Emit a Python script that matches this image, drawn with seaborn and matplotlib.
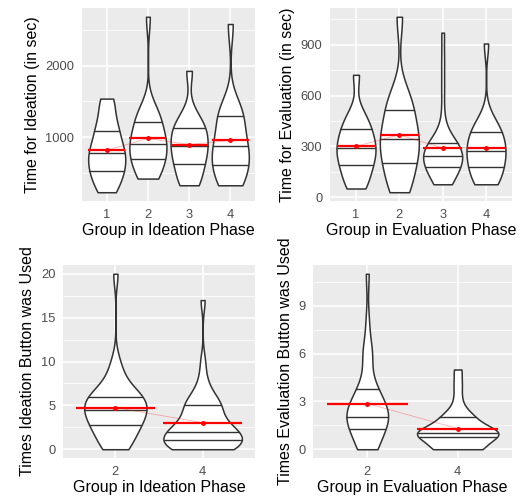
import numpy as np
import pandas as pd
import seaborn as sns
import matplotlib.pyplot as plt

# Time for ideation (in sec), per ideation group
ideation_time_g1 = [236, 300, 420, 510, 540, 600, 700, 760, 800, 850, 950, 1080, 1120, 1250, 1450, 1540]
ideation_time_g2 = [426, 450, 500, 560, 680, 700, 730, 780, 870, 900, 925, 980, 990, 1060, 1200, 1250,
                    1290, 1350, 1400, 2680]
ideation_time_g3 = [333, 350, 460, 600, 640, 700, 800, 860, 900, 950, 1050, 1130, 1150, 1200, 1350, 1926]
ideation_time_g4 = [333, 340, 400, 580, 620, 660, 720, 850, 900, 930, 1050, 1280, 1330, 1350, 1400, 2579]

# Time for evaluation (in sec), per evaluation group
evaluation_time_g1 = [51, 80, 110, 175, 195, 210, 250, 285, 300, 320, 340, 400, 415, 450, 500, 723]
evaluation_time_g2 = [29, 60, 110, 180, 210, 250, 300, 330, 355, 370, 410, 510, 530, 560, 620, 1066]
evaluation_time_g3 = [76, 80, 90, 110, 140, 160, 170, 178, 190, 200, 215, 225, 235, 240,
                      250, 260, 270, 280, 290, 300, 315, 325, 328, 335, 470, 640, 800, 972]
evaluation_time_g4 = [76, 80, 90, 120, 170, 180, 190, 215, 255, 265, 280, 290, 310, 340, 380, 390,
                      400, 420, 480, 908]

# Times the buttons were used (only groups 2 and 4 had them)
ideation_button_g2 = [0, 0, 0, 1, 1, 2, 2, 2, 3, 3, 3, 3, 4, 4, 4, 4,
                      5, 5, 5, 5, 5, 6, 6, 6, 6, 6, 7, 7, 8, 9, 10, 20]
ideation_button_g4 = [0, 0, 0, 0, 0, 0, 0, 0, 1, 1, 1, 1, 1, 1, 1, 1, 2, 2, 2, 2,
                      2, 2, 2, 3, 3, 3, 3, 4, 4, 5, 5, 5, 5, 5, 6, 6, 7, 8, 10, 17]
evaluation_button_g2 = [0, 0, 0, 0, 1, 1, 1, 1, 2, 2, 2, 2, 2, 2, 2,
                        2, 2, 3, 3, 3, 3, 3, 4, 4, 4, 6, 6, 6, 8, 11]
evaluation_button_g4 = [0, 0, 0, 0, 0, 0, 1, 1, 1, 1, 1, 1, 1, 1, 1, 1, 1, 2,
                        2, 2, 2, 3, 4, 5]


def long_df(groups):
    rows = []
    for name, vals in groups.items():
        for v in vals:
            rows.append({'group': name, 'value': v})
    return pd.DataFrame(rows)


def draw_panel(ax, df, xlabel, ylabel, major, minor, norm='area'):
    sns.violinplot(data=df, x='group', y='value', ax=ax, inner='quart', cut=0,
                   density_norm=norm, width=0.9, color='white', linecolor='#333333',
                   linewidth=1.1, bw_adjust=0.75, saturation=1)
    # ggplot draws solid quantile lines
    for ln in ax.lines:
        ln.set_linestyle('-')
        ln.set_linewidth(1.0)

    means = df.groupby('group', sort=False)['value'].mean()
    pos = np.arange(len(means))
    ax.plot(pos, means.values, color='red', alpha=0.3, lw=0.6, zorder=4)
    ax.hlines(means.values, pos - 0.45, pos + 0.45, color='red', lw=1.6, zorder=5)
    ax.plot(pos, means.values, 'o', color='red', ms=2.5, zorder=6)

    lo, hi = df['value'].min(), df['value'].max()
    pad = 0.05 * (hi - lo)
    ax.set_ylim(lo - pad, hi + pad)
    ax.set_xlim(-0.6, len(means) - 0.4)
    ax.set_yticks(major)
    ax.set_yticks(minor, minor=True)
    ax.grid(True, which='major', color='white', lw=1.1)
    ax.grid(True, which='minor', axis='y', color='white', lw=0.55)
    ax.set_axisbelow(True)
    ax.tick_params(which='minor', length=0)
    ax.tick_params(which='major', length=3.5, width=1, color='#333333',
                   labelcolor='#4D4D4D', labelsize=9.3, pad=2)
    for s in ax.spines.values():
        s.set_visible(False)
    ax.set_xlabel(xlabel, fontsize=11.5, color='black', labelpad=2)
    ax.set_ylabel(ylabel, fontsize=11.5, color='black', labelpad=4)


sns.set_style('darkgrid', {'axes.facecolor': '#EBEBEB', 'grid.color': 'white'})
plt.rcParams['font.family'] = ['Liberation Sans', 'DejaVu Sans']

fig = plt.figure(figsize=(5.21, 5.04), dpi=100)
W, H = 521, 504


def add_axes(x0, y0, x1, y1):
    return fig.add_axes([x0 / W, 1 - y1 / H, (x1 - x0) / W, (y1 - y0) / H])


ax1 = add_axes(82, 8, 255, 201)
ax2 = add_axes(330, 8, 512, 201)
ax3 = add_axes(63, 265, 255, 458)
ax4 = add_axes(313, 265, 512, 458)

df1 = long_df({'1': ideation_time_g1, '2': ideation_time_g2, '3': ideation_time_g3, '4': ideation_time_g4})
df2 = long_df({'1': evaluation_time_g1, '2': evaluation_time_g2, '3': evaluation_time_g3, '4': evaluation_time_g4})
df3 = long_df({'2': ideation_button_g2, '4': ideation_button_g4})
df4 = long_df({'2': evaluation_button_g2, '4': evaluation_button_g4})

draw_panel(ax1, df1, 'Group in Ideation Phase', 'Time for Ideation (in sec)',
           [1000, 2000], [500, 1500, 2500], norm='width')
draw_panel(ax2, df2, 'Group in Evaluation Phase', 'Time for Evaluation (in sec)',
           [0, 300, 600, 900], [150, 450, 750, 1050], norm='width')
draw_panel(ax3, df3, 'Group in Ideation Phase', 'Times Ideation Button was Used',
           [0, 5, 10, 15, 20], [2.5, 7.5, 12.5, 17.5])
draw_panel(ax4, df4, 'Group in Evaluation Phase', 'Times Evaluation Button was Used',
           [0, 3, 6, 9], [1.5, 4.5, 7.5, 10.5])

fig.savefig('out.png', dpi=100)
